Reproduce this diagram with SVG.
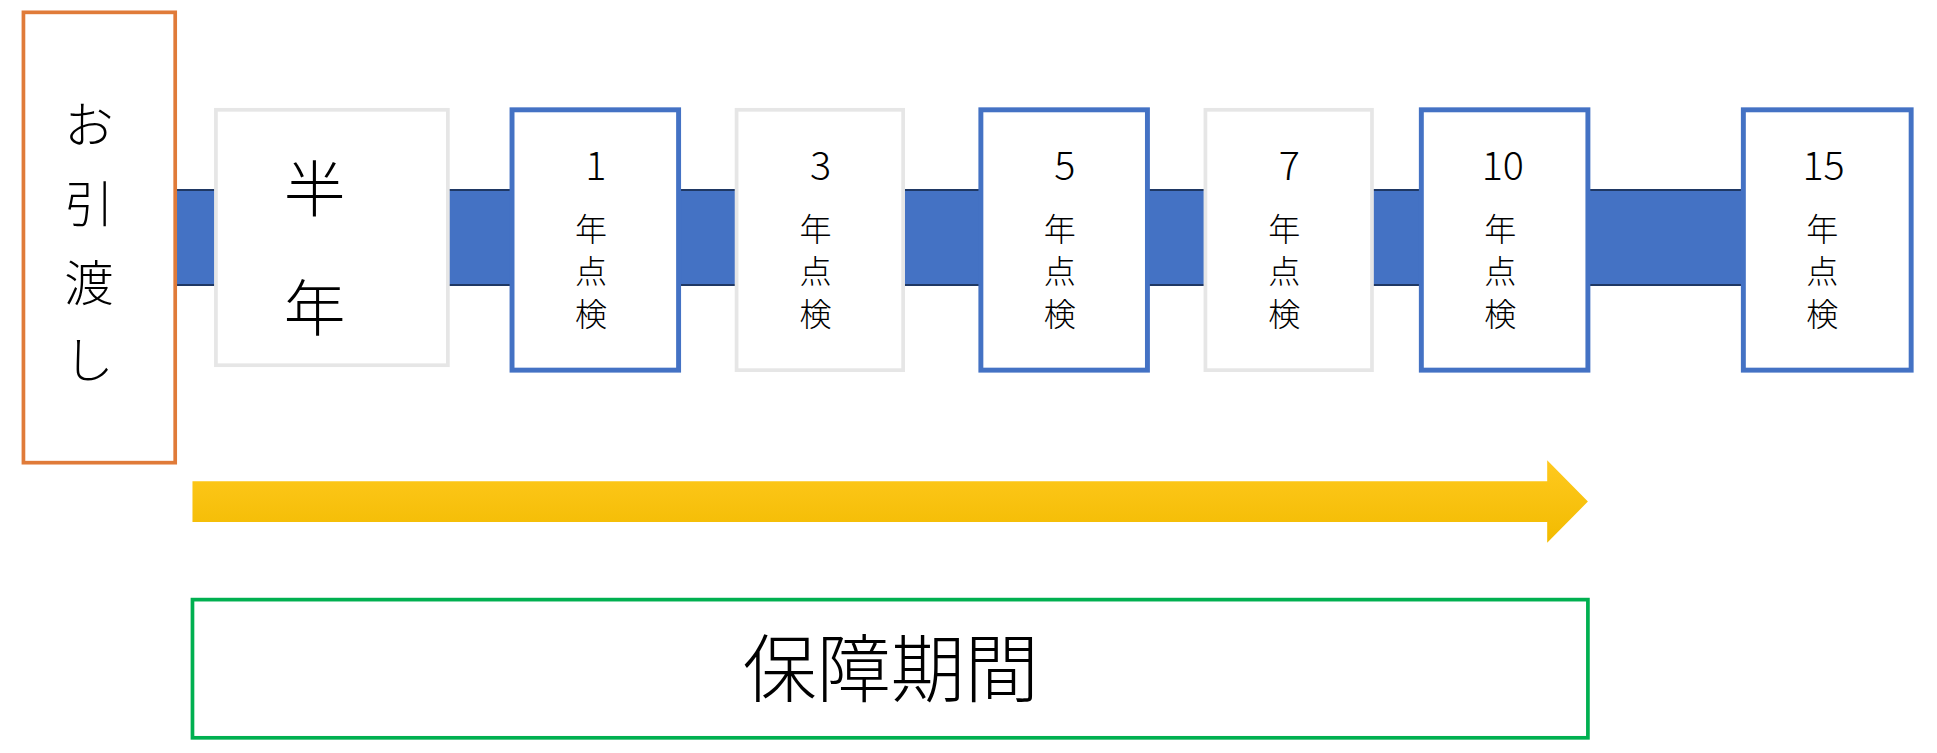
<svg xmlns="http://www.w3.org/2000/svg" width="1937" height="753" viewBox="0 0 1937 753">
<defs>
<linearGradient id="yg" x1="0" y1="0" x2="0" y2="1"><stop offset="0" stop-color="#FFC91F"/><stop offset="1" stop-color="#F2BB00"/></linearGradient>
<style>
text{font-family:"Noto Sans CJK JP","Noto Sans",sans-serif;fill:#000;text-anchor:middle}
.g{fill:#fff;stroke:#E6E6E6;stroke-width:3}
.b{fill:#fff;stroke:#4472C4;stroke-width:4}
.n{font-size:32px;font-weight:300}
.k{font-size:26px;font-weight:300}
</style>
</defs>
<g transform="scale(1.2338)">
<g id="connectors">
<rect x="142" y="154" width="1270" height="77" fill="#4472C4"/>
<line x1="142" y1="154" x2="1412" y2="154" stroke="#1F3864" stroke-width="1.6"/>
<line x1="142" y1="231" x2="1412" y2="231" stroke="#1F3864" stroke-width="1.6"/>
<polygon points="156,390 1254,390 1254,373 1287,406.5 1254,440 1254,423 156,423" fill="url(#yg)"/>
</g>
<g id="handover"><rect x="19" y="10" width="123" height="365" fill="#fff" stroke="#E07B39" stroke-width="3"/>
<text x="72" y="116" font-size="40" font-weight="300">お</text><text x="72" y="180" font-size="40" font-weight="300">引</text><text x="72" y="244" font-size="40" font-weight="300">渡</text><text x="72" y="306" font-size="40" font-weight="300">し</text></g>
<g id="half"><rect class="g" x="175" y="89" width="188" height="207"/>
<text x="255" y="172" font-size="50" font-weight="300">半</text><text x="255" y="268" font-size="50" font-weight="300">年</text></g>
<g id="y1"><rect class="b" x="415" y="89" width="135" height="211"/><text class="n" x="483" y="146">1</text><text class="k" x="479" y="195">年</text><text class="k" x="479" y="229">点</text><text class="k" x="479" y="264">検</text></g>
<g id="y3"><rect class="g" x="597" y="89" width="135" height="211"/><text class="n" x="665" y="146">3</text><text class="k" x="661" y="195">年</text><text class="k" x="661" y="229">点</text><text class="k" x="661" y="264">検</text></g>
<g id="y5"><rect class="b" x="795" y="89" width="135" height="211"/><text class="n" x="863" y="146">5</text><text class="k" x="859" y="195">年</text><text class="k" x="859" y="229">点</text><text class="k" x="859" y="264">検</text></g>
<g id="y7"><rect class="g" x="977" y="89" width="135" height="211"/><text class="n" x="1045" y="146">7</text><text class="k" x="1041" y="195">年</text><text class="k" x="1041" y="229">点</text><text class="k" x="1041" y="264">検</text></g>
<g id="y10"><rect class="b" x="1152" y="89" width="135" height="211"/><text class="n" x="1218" y="146">10</text><text class="k" x="1216" y="195">年</text><text class="k" x="1216" y="229">点</text><text class="k" x="1216" y="264">検</text></g>
<g id="y15"><rect class="b" x="1413" y="89" width="136" height="211"/><text class="n" x="1478" y="146">15</text><text class="k" x="1477" y="195">年</text><text class="k" x="1477" y="229">点</text><text class="k" x="1477" y="264">検</text></g>
<g id="warranty"><rect x="156" y="486" width="1131" height="112" fill="#fff" stroke="#00B050" stroke-width="3"/>
<text x="722" y="564" font-size="60" font-weight="300">保障期間</text></g>
</g>
</svg>
